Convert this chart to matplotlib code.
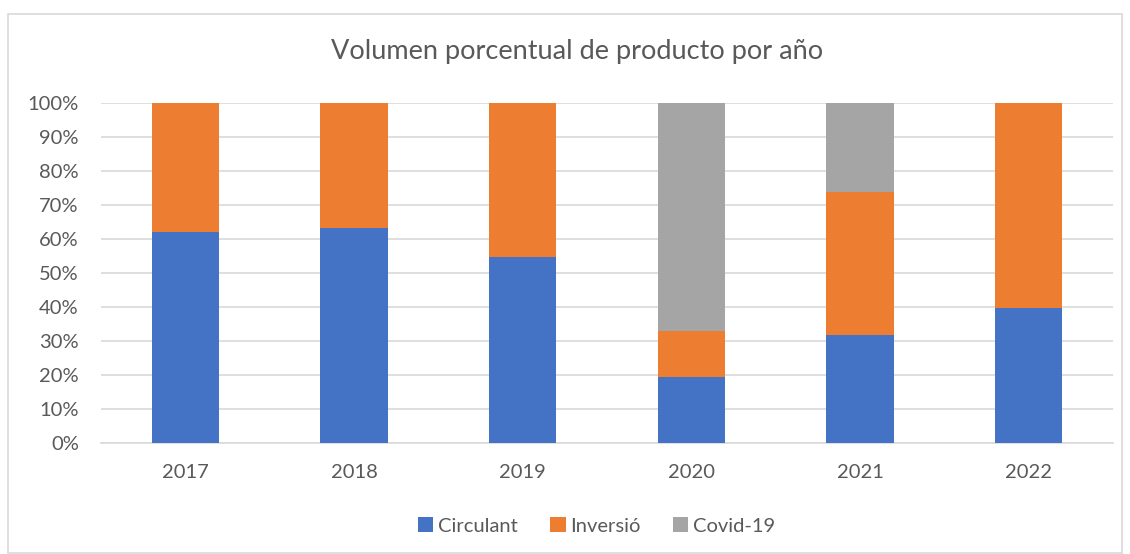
import matplotlib
matplotlib.use("Agg")
import matplotlib.pyplot as plt
from matplotlib.patches import Rectangle
import numpy as np

years = ["2017", "2018", "2019", "2020", "2021", "2022"]
circulant = [62.0, 63.2, 54.7, 19.4, 31.7, 39.7]
inversio = [38.0, 36.8, 45.3, 13.5, 41.9, 60.3]
covid = [0.0, 0.0, 0.0, 67.1, 26.4, 0.0]

blue = "#4472C4"
orange = "#ED7D31"
grey = "#A5A5A5"
txt = "#595959"

plt.rcParams['font.family'] = ['Lato', 'DejaVu Sans']

fig = plt.figure(figsize=(11.30, 5.54), dpi=100)
fig.patches.append(Rectangle((8 / 1130, 1 - 553 / 554), 1114 / 1130, 539 / 554,
                             transform=fig.transFigure, fill=False,
                             edgecolor="#D9D9D9", linewidth=1.2))
ax = fig.add_axes([0.0894, 0.2009, 0.8956, 0.6137])

x = np.arange(len(years))
w = 0.4
c = np.array(circulant)
i = np.array(inversio)
v = np.array(covid)
ax.bar(x, c, w, color=blue, label="Circulant", zorder=3)
ax.bar(x, i, w, bottom=c, color=orange, label="Inversió", zorder=3)
ax.bar(x, v, w, bottom=c + i, color=grey, label="Covid-19", zorder=3)

ax.set_xlim(-0.5, len(years) - 0.5)
ax.set_ylim(0, 100)
ax.set_yticks(np.arange(0, 101, 10))
ax.set_yticklabels([f"{t}%" for t in range(0, 101, 10)])
ax.set_xticks(x)
ax.set_xticklabels(years)
ax.grid(axis="y", color="#D9D9D9", linewidth=1.2, zorder=0)
for s in ["top", "right", "left"]:
    ax.spines[s].set_visible(False)
ax.spines["bottom"].set_color("#D9D9D9")
ax.spines["bottom"].set_linewidth(1.2)
ax.tick_params(axis="both", length=0, labelsize=14.5, colors=txt)
ax.tick_params(axis="x", pad=15)
ax.tick_params(axis="y", pad=16)

fig.text(0.511, 1 - 52 / 554, "Volumen porcentual de producto por año",
         ha="center", va="center", fontsize=19.5, color=txt)

ax.legend(loc="center", bbox_to_anchor=(0.49, -0.245), ncol=3, frameon=False,
          fontsize=14.5, labelcolor=txt, handlelength=0.75, handleheight=0.75,
          handletextpad=0.25, columnspacing=1.6)

fig.savefig("out.png", dpi=100)
